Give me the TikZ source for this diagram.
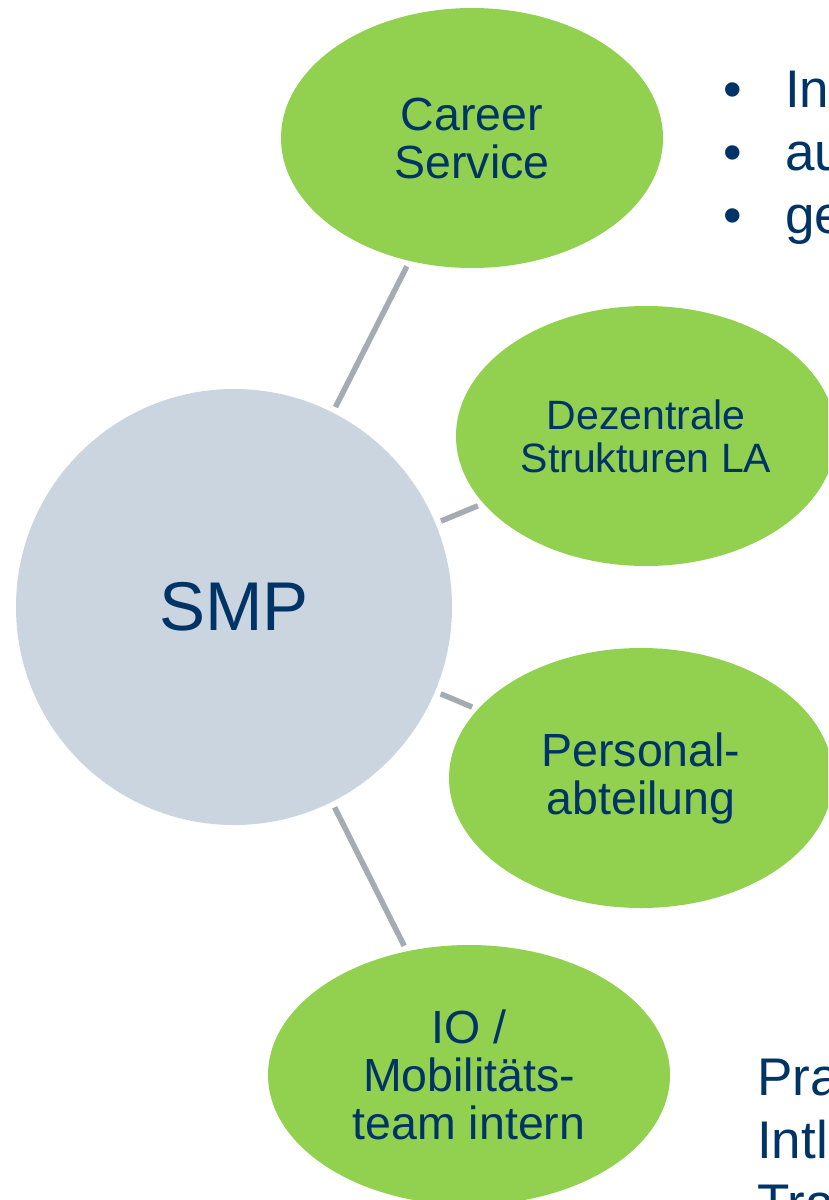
\documentclass[tikz,border=0pt]{standalone}
\usepackage{fontspec}
\setmainfont{Liberation Sans}
\usetikzlibrary{shapes.geometric}
\definecolor{ngreen}{HTML}{92D050}
\definecolor{ngrey}{HTML}{CBD5E0}
\definecolor{nline}{HTML}{A5ABB3}
\definecolor{ntext}{HTML}{003366}
\tikzset{
  bubble/.style={ellipse, fill=ngreen, draw=none, inner sep=0pt, text=ntext, align=center,
     minimum width=382pt, minimum height=260pt},
  hub/.style={circle, fill=ngrey, draw=none, inner sep=0pt, minimum size=436pt, text=ntext},
  link/.style={draw=nline, line width=5.5pt, shorten >=6pt, shorten <=6pt},
  side/.style={anchor=base west, inner sep=0pt, text=ntext, font=\fontsize{53}{63}\selectfont},
  big/.style={font=\fontsize{46.5}{48}\selectfont},
  small/.style={font=\fontsize{41}{43}\selectfont}
}
\begin{document}
\begin{tikzpicture}[x=1pt,y=-1pt]
\useasboundingbox (0,0) rectangle (828,1200);
\clip (0,0) rectangle (828,1200);
\fill[white] (0,0) rectangle (828,1200);
\node[hub, font=\fontsize{69}{72}\selectfont] (smp) at (234,607) {SMP};
\node[bubble, big] (cs) at (472,138) {Career\\Service};
\node[bubble, small, minimum width=380pt] (dez) at (646,436) {Dezentrale\\Strukturen LA};
\node[bubble, big, minimum width=384pt] (pers) at (641,778) {Personal-\\abteilung};
\node[bubble, big, minimum width=402pt] (io) at (469,1075) {IO /\\Mobilitäts-\\team intern};
\draw[link] (smp) -- (cs);
\draw[link] (smp) -- (dez);
\draw[link] (smp) -- (pers);
\draw[link] (smp) -- (io);
\node[side] (b1) at (723,107) {•};
\node[side] (b2) at (723,170) {•};
\node[side] (b3) at (723,233) {•};
\node[side] (t1) at (785,107) {In};
\node[side] (t2) at (785,170) {au};
\node[side] (t3) at (785,233) {ge};
\node[side] (p1) at (757,1095) {Pra};
\node[side] (p2) at (757,1158) {Intl};
\node[side] (p3) at (757,1221) {Tra};
\end{tikzpicture}
\end{document}
